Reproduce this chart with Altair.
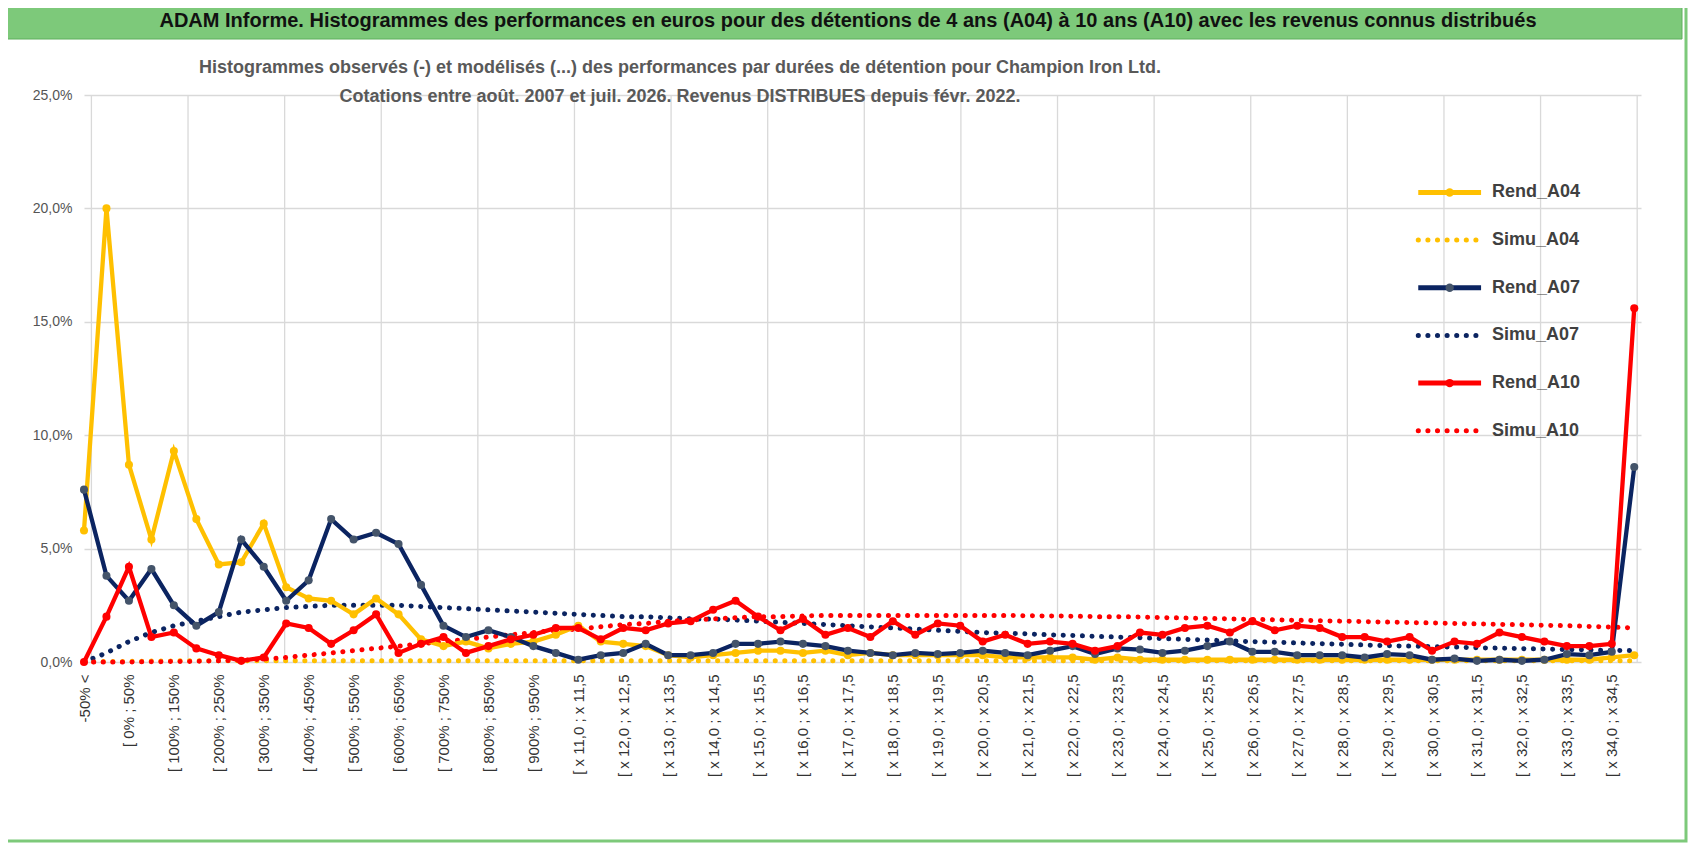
import altair as alt
import pandas as pd

pct = ["-50% <", "[-50% ; 0%"]
for a in range(0, 1000, 50):
    pct.append(f"[ {a}% ; {a+50}%")
xs = []
v = 11.0
while v < 35:
    xs.append(f"[ x {v:.1f} ; x {v+0.5:.1f}".replace(".", ","))
    v += 0.5
labels = pct + xs  # 22 + 48 = 70

rend_a04 = [5.8,20.0,8.7,5.4,9.3,6.3,4.3,4.4,6.1,3.3,2.8,2.7,2.1,2.8,2.1,1.0,0.7,0.9,0.6,0.8,0.9,1.2,
            1.6,0.9,0.8,0.7,0.3,0.2,0.3,0.4,0.5,0.5,0.4,0.5,0.3,0.4,0.3,0.3,0.3,0.3,0.3,0.2,0.2,0.2,0.2,0.1,
            0.2,0.1,0.1,0.1,0.1,0.1,0.1,0.1,0.1,0.1,0.1,0.1,0.1,0.1,0.1,0.1,0.1,0.1,0.1,0.1,0.1,0.1,0.2,0.3]
rend_a07 = [7.6,3.8,2.7,4.1,2.5,1.6,2.2,5.4,4.2,2.7,3.6,6.3,5.4,5.7,5.2,3.4,1.6,1.1,1.4,1.1,0.7,0.4,
            0.1,0.3,0.4,0.8,0.3,0.3,0.4,0.8,0.8,0.9,0.8,0.7,0.5,0.4,0.3,0.4,0.35,0.4,0.5,0.4,0.3,0.5,0.7,0.35,
            0.6,0.55,0.4,0.5,0.7,0.9,0.45,0.45,0.3,0.3,0.3,0.2,0.35,0.3,0.1,0.15,0.05,0.1,0.05,0.1,0.35,0.3,0.45,8.6]
rend_a10 = [0.0,2.0,4.2,1.1,1.3,0.6,0.3,0.05,0.2,1.7,1.5,0.8,1.4,2.1,0.4,0.8,1.1,0.4,0.7,1.0,1.2,1.5,
            1.5,1.0,1.5,1.4,1.7,1.8,2.3,2.7,2.0,1.4,1.9,1.2,1.5,1.1,1.8,1.2,1.7,1.6,0.9,1.2,0.8,0.9,0.8,0.5,
            0.7,1.3,1.2,1.5,1.6,1.3,1.8,1.4,1.6,1.5,1.1,1.1,0.9,1.1,0.5,0.9,0.8,1.3,1.1,0.9,0.7,0.7,0.8,15.6]
simu_a04 = [0.0,0.02,0.03,0.04,0.05,0.05,0.05,0.05,0.05,0.05,0.05,0.05,0.05,0.05,0.05,0.05,0.05,0.05,0.05,0.05,0.05,0.05,
            0.05,0.05,0.05,0.05,0.05,0.05,0.05,0.05,0.05,0.05,0.05,0.05,0.05,0.05,0.05,0.05,0.05,0.05,0.05,0.05,0.05,0.05,0.05,0.05,
            0.05,0.05,0.05,0.05,0.05,0.05,0.05,0.05,0.05,0.05,0.05,0.05,0.05,0.05,0.05,0.05,0.05,0.05,0.05,0.05,0.05,0.05,0.05,0.05]
simu_a07 = [0.0,0.4,0.9,1.3,1.6,1.8,2.0,2.2,2.3,2.4,2.45,2.5,2.5,2.5,2.5,2.45,2.4,2.35,2.3,2.25,2.2,2.15,
            2.1,2.05,2.0,2.0,1.95,1.9,1.9,1.85,1.8,1.75,1.7,1.65,1.6,1.55,1.5,1.45,1.4,1.35,1.3,1.27,1.24,1.2,1.17,1.13,
            1.1,1.07,1.03,1.0,0.97,0.93,0.9,0.87,0.84,0.81,0.78,0.75,0.72,0.7,0.68,0.66,0.63,0.61,0.59,0.57,0.55,0.53,0.51,0.5]
simu_a10 = [0.0,0.0,0.0,0.01,0.02,0.03,0.05,0.08,0.13,0.2,0.3,0.4,0.5,0.6,0.7,0.8,0.9,1.0,1.1,1.2,1.3,1.4,
            1.45,1.55,1.65,1.7,1.8,1.85,1.9,1.95,2.0,2.0,2.03,2.05,2.05,2.05,2.05,2.05,2.05,2.05,2.05,2.05,2.04,2.03,2.02,2.0,
            2.0,1.98,1.96,1.94,1.92,1.9,1.88,1.86,1.84,1.82,1.8,1.78,1.76,1.74,1.72,1.7,1.68,1.66,1.64,1.62,1.6,1.57,1.54,1.5]

idx = list(range(len(labels)))
df = pd.DataFrame({"idx": idx, "Rend_A04": rend_a04, "Rend_A07": rend_a07, "Rend_A10": rend_a10,
                   "Simu_A04": simu_a04, "Simu_A07": simu_a07, "Simu_A10": simu_a10})
for c in df.columns[1:]:
    df[c] = df[c] / 100.0

S = 1.083
FONT = "Liberation Sans"
YEL, NAV, RED = "#FFC000", "#0B2461", "#FF0000"
W, H = 1557, 567
lab_js = "[" + ",".join("'" + l + "'" for l in labels) + "]"

xscale = alt.Scale(domain=[0, 69.3], nice=False, zero=False)
xaxis = alt.Axis(values=list(range(0, 70, 2)), labelExpr=lab_js + "[datum.value]",
                 labelAngle=-90, labelAlign="right", labelBaseline="middle", labelPadding=12,
                 labelFont=FONT, labelFontSize=15, labelColor="#333", grid=False,
                 ticks=False, domain=False, title=None, labelBound=False, labelOverlap=False)
yaxis = alt.Axis(values=[0, 0.05, 0.1, 0.15, 0.2, 0.25], labelExpr="replace(format(datum.value,'.1%'),'.',',')",
                 labelFont=FONT, labelFontSize=14, labelColor="#555", gridColor="#D9D9D9", gridWidth=1.3,
                 domain=False, ticks=False, title=None, labelPadding=12)
yscale = alt.Scale(domain=[0, 0.25], nice=False)

def X(f):
    return alt.X(f, scale=xscale, axis=xaxis)

def Y(f):
    return alt.Y(f, scale=yscale, axis=yaxis)

base = alt.Chart(df)
grid_df = pd.DataFrame({"g": [0.33 + 4.3 * k for k in range(17)]})
vgrid = alt.Chart(grid_df).mark_rule(color="#D9D9D9", strokeWidth=1.3).encode(x=X("g:Q"))

layers = [vgrid]
for name, col in [("Simu_A04", YEL), ("Simu_A07", NAV), ("Simu_A10", RED)]:
    layers.append(base.mark_line(color=col, strokeWidth=5, strokeDash=[0.1, 9.5], strokeCap="round").encode(
        x=X("idx:Q"), y=Y(f"{name}:Q")))
for name, col, pc in [("Rend_A04", YEL, YEL), ("Rend_A07", NAV, "#44546A"), ("Rend_A10", RED, RED)]:
    layers.append(base.mark_line(color=col, strokeWidth=4.3).encode(x=X("idx:Q"), y=Y(f"{name}:Q")))
    layers.append(base.mark_circle(color=pc, size=65, opacity=1).encode(x=X("idx:Q"), y=Y(f"{name}:Q")))

one = pd.DataFrame({"a": [0]})
leg = [("Rend_A04", YEL, False), ("Simu_A04", YEL, True), ("Rend_A07", NAV, False),
       ("Simu_A07", NAV, True), ("Rend_A10", RED, False), ("Simu_A10", RED, True)]
for i, (n, c, dot) in enumerate(leg):
    yy = (90 + i * 44) * S
    if dot:
        layers.append(alt.Chart(one).mark_rule(color=c, strokeWidth=5, strokeDash=[0.1, 9.5], strokeCap="round").encode(
            x=alt.value(1232 * S), x2=alt.value(1290 * S), y=alt.value(yy)))
    else:
        layers.append(alt.Chart(one).mark_rule(color=c, strokeWidth=5).encode(
            x=alt.value(1232 * S), x2=alt.value(1290 * S), y=alt.value(yy)))
        layers.append(alt.Chart(one).mark_circle(color=c if c != NAV else "#44546A", size=70, opacity=1).encode(
            x=alt.value(1261 * S), y=alt.value(yy)))
    layers.append(alt.Chart(pd.DataFrame({"t": [n]})).mark_text(align="left", baseline="middle", font=FONT, fontSize=18,
                  fontWeight="bold", color="#404040").encode(x=alt.value(1300 * S), y=alt.value(yy), text="t:N"))

layers.append(alt.Chart(one).mark_rect(fill="none", stroke="#7DC97A", strokeWidth=3).encode(
    x=alt.value(-82), x2=alt.value(1602), y=alt.value(-92), y2=alt.value(746)))
layers.append(alt.Chart(one).mark_rect(fill="#7DC97A", stroke="#5FAE5C").encode(
    x=alt.value(-78), x2=alt.value(1598), y=alt.value(-92), y2=alt.value(-56)))
layers.append(alt.Chart(pd.DataFrame({"t": ["ADAM Informe. Histogrammes des performances en euros pour des détentions de 4 ans (A04) à 10 ans (A10) avec les revenus connus distribués"]})).mark_text(
    font=FONT, fontSize=20, fontWeight="bold", color="#111").encode(x=alt.value(764), y=alt.value(-74), text="t:N"))
for k, t in enumerate(["Histogrammes observés (-)  et modélisés (...) des performances par durées de détention pour Champion Iron Ltd.",
                       "Cotations entre août. 2007 et juil. 2026. Revenus DISTRIBUES depuis févr. 2022."]):
    layers.append(alt.Chart(pd.DataFrame({"t": [t]})).mark_text(font=FONT, fontSize=18, fontWeight="bold", color="#595959").encode(
        x=alt.value(596), y=alt.value(-27 + k * 29), text="t:N"))

chart = alt.layer(*layers).properties(
    width=W, height=H, autosize=alt.AutoSizeParams(type="none"),
    padding={"left": 76, "top": 87, "right": 49, "bottom": 184}, background="white"
).configure_view(stroke=None)

chart.save("out.html", embed_options={"renderer": "svg", "actions": False})
